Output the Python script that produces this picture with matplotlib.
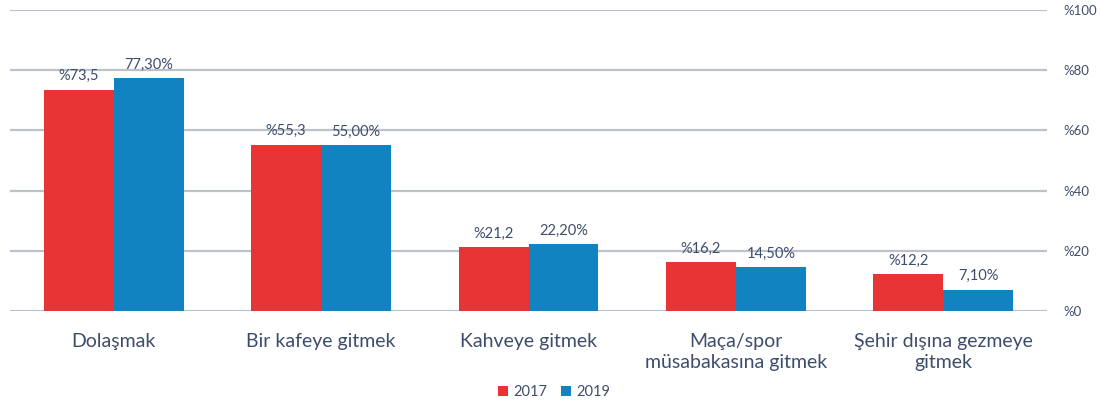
import numpy as np
import matplotlib.pyplot as plt

plt.rcParams['font.family'] = ['Lato', 'DejaVu Sans']

categories = ['Dolaşmak', 'Bir kafeye gitmek', 'Kahveye gitmek',
              'Maça/spor\nmüsabakasına gitmek', 'Şehir dışına gezmeye\ngitmek']
v2017 = [73.5, 55.3, 21.2, 16.2, 12.2]
v2019 = [77.3, 55.0, 22.2, 14.5, 7.1]
lab2017 = ['%73,5', '%55,3', '%21,2', '%16,2', '%12,2']
lab2019 = ['77,30%', '55,00%', '22,20%', '14,50%', '7,10%']
yticks = [0, 20, 40, 60, 80, 100]

red = '#E93435'
blue = '#1283C1'
txt = '#3E4D6B'
grid = '#BCC1CA'

fig = plt.figure(figsize=(11.01, 4.03), dpi=100)
ax = fig.add_axes([10 / 1101, 1 - 311 / 403, 1037 / 1101, 301 / 403])

x = np.arange(len(categories))
w = 0.337
b1 = ax.bar(x - w / 2, v2017, w, color=red, label='2017', zorder=3)
b2 = ax.bar(x + w / 2, v2019, w, color=blue, label='2019', zorder=3)

for rect, t in zip(b1, lab2017):
    ax.text(rect.get_x() + rect.get_width() / 2, rect.get_height() + 2.2, t,
            ha='center', va='bottom', fontsize=10.5, color=txt)
for rect, t in zip(b2, lab2019):
    ax.text(rect.get_x() + rect.get_width() / 2, rect.get_height() + 2.2, t,
            ha='center', va='bottom', fontsize=10.5, color=txt)

ax.set_xlim(-0.5, len(categories) - 0.5)
ax.set_ylim(0, 100)
ax.set_yticks(yticks)
ax.set_yticklabels(['%' + str(v) for v in yticks])
ax.yaxis.tick_right()
ax.tick_params(axis='y', length=0, pad=12, labelsize=9.5, labelcolor=txt)
ax.set_xticks(x)
ax.set_xticklabels(categories, fontsize=14, color=txt, linespacing=1.3)
ax.tick_params(axis='x', length=0, pad=16)
ax.grid(axis='y', color=grid, linewidth=1.6, zorder=0)
for s in ax.spines.values():
    s.set_visible(False)

fig.legend(handles=[b1, b2], labels=['2017', '2019'], loc='center',
           bbox_to_anchor=(554 / 1101, 1 - 392 / 403), ncol=2, frameon=False,
           fontsize=10.5, labelcolor=txt, handlelength=0.7, handleheight=0.7,
           handletextpad=0.35, columnspacing=0.9)

fig.savefig('out.png', dpi=100)
